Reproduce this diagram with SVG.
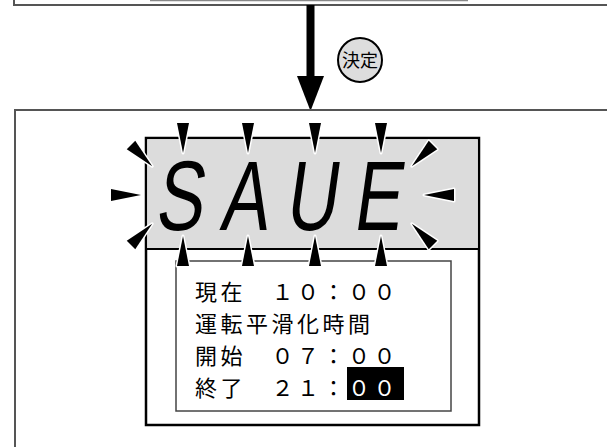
<svg xmlns="http://www.w3.org/2000/svg" xmlns:xlink="http://www.w3.org/1999/xlink" width="607" height="447" viewBox="0 0 607 447">
<style>
.frame{fill:none;stroke:#555;stroke-width:2}
.lcd{fill:#fff;stroke:#000;stroke-width:2.5}
.inner{fill:none;stroke:#444;stroke-width:1.5}
.seg{font-family:"Liberation Sans",Arial,sans-serif;font-size:99px;fill:#000;text-anchor:middle}
.jp{font-family:"Noto Sans CJK JP","Noto Sans CJK SC",sans-serif;font-size:22px;letter-spacing:3.5px;fill:#000}
.flash{fill:#000;stroke:#fff;stroke-width:3;stroke-linejoin:round;paint-order:stroke}
</style>
<defs>
<polygon id="fl" points="-6,0 6,0 0,30"/>
</defs>
<g id="prev-screen">
<rect class="frame" x="14" y="-30" width="700" height="35"/>
<line x1="150" y1="0.5" x2="468" y2="0.5" stroke="#888" stroke-width="1.5"/>
</g>
<g id="connectors">
<line x1="310.5" y1="5" x2="310.5" y2="80" stroke="#000" stroke-width="8"/>
<polygon points="297,76 324,76 310.5,111" fill="#000"/>
</g>
<g id="key-kettei">
<circle cx="360" cy="60" r="22" fill="#ddd" stroke="#000" stroke-width="2"/>
<text x="360" y="66.5" font-family="Noto Sans CJK JP,sans-serif" font-size="18" text-anchor="middle">決定</text>
</g>
<g id="save-screen">
<rect class="frame" x="15" y="110" width="700" height="400"/>
<rect class="lcd" x="146" y="138" width="333" height="287"/>
<rect x="147.25" y="139.25" width="330.5" height="109.75" fill="#dcdcdc"/>
<line x1="146" y1="249" x2="479" y2="249" stroke="#000" stroke-width="2"/>
<rect class="inner" x="176" y="261" width="275" height="150"/>
<g id="seg-text">
<text class="seg" transform="translate(178,230) skewX(-8) scale(0.72,1)">S</text>
<text class="seg" transform="translate(243,230) skewX(-8) scale(0.72,1)">A</text>
<text class="seg" transform="translate(310,230) skewX(-8) scale(0.72,1)">U</text>
<text class="seg" transform="translate(376,230) skewX(-8) scale(0.72,1)">E</text>
</g>
<g id="flash-marks" class="flash">
<use xlink:href="#fl" transform="translate(183,123)"/>
<use xlink:href="#fl" transform="translate(248,123)"/>
<use xlink:href="#fl" transform="translate(315,123)"/>
<use xlink:href="#fl" transform="translate(381,123)"/>
<use xlink:href="#fl" transform="translate(183,266) rotate(180)"/>
<use xlink:href="#fl" transform="translate(248,266) rotate(180)"/>
<use xlink:href="#fl" transform="translate(315,266) rotate(180)"/>
<use xlink:href="#fl" transform="translate(381,266) rotate(180)"/>
<use xlink:href="#fl" transform="translate(111,195) rotate(-90)"/>
<use xlink:href="#fl" transform="translate(454,195) rotate(90)"/>
<use xlink:href="#fl" transform="translate(131,145) rotate(-45)"/>
<use xlink:href="#fl" transform="translate(433,145) rotate(45)"/>
<use xlink:href="#fl" transform="translate(131,245) rotate(-135)"/>
<use xlink:href="#fl" transform="translate(433,245) rotate(135)"/>
</g>
<rect x="347" y="367" width="57" height="33" fill="#000"/>
<text class="jp" x="195" y="300">現在　１０：００</text>
<text class="jp" x="195" y="332">運転平滑化時間</text>
<text class="jp" x="195" y="364">開始　０７：００</text>
<text class="jp" x="195" y="396">終了　２１：<tspan fill="#fff">００</tspan></text>
</g>
</svg>
